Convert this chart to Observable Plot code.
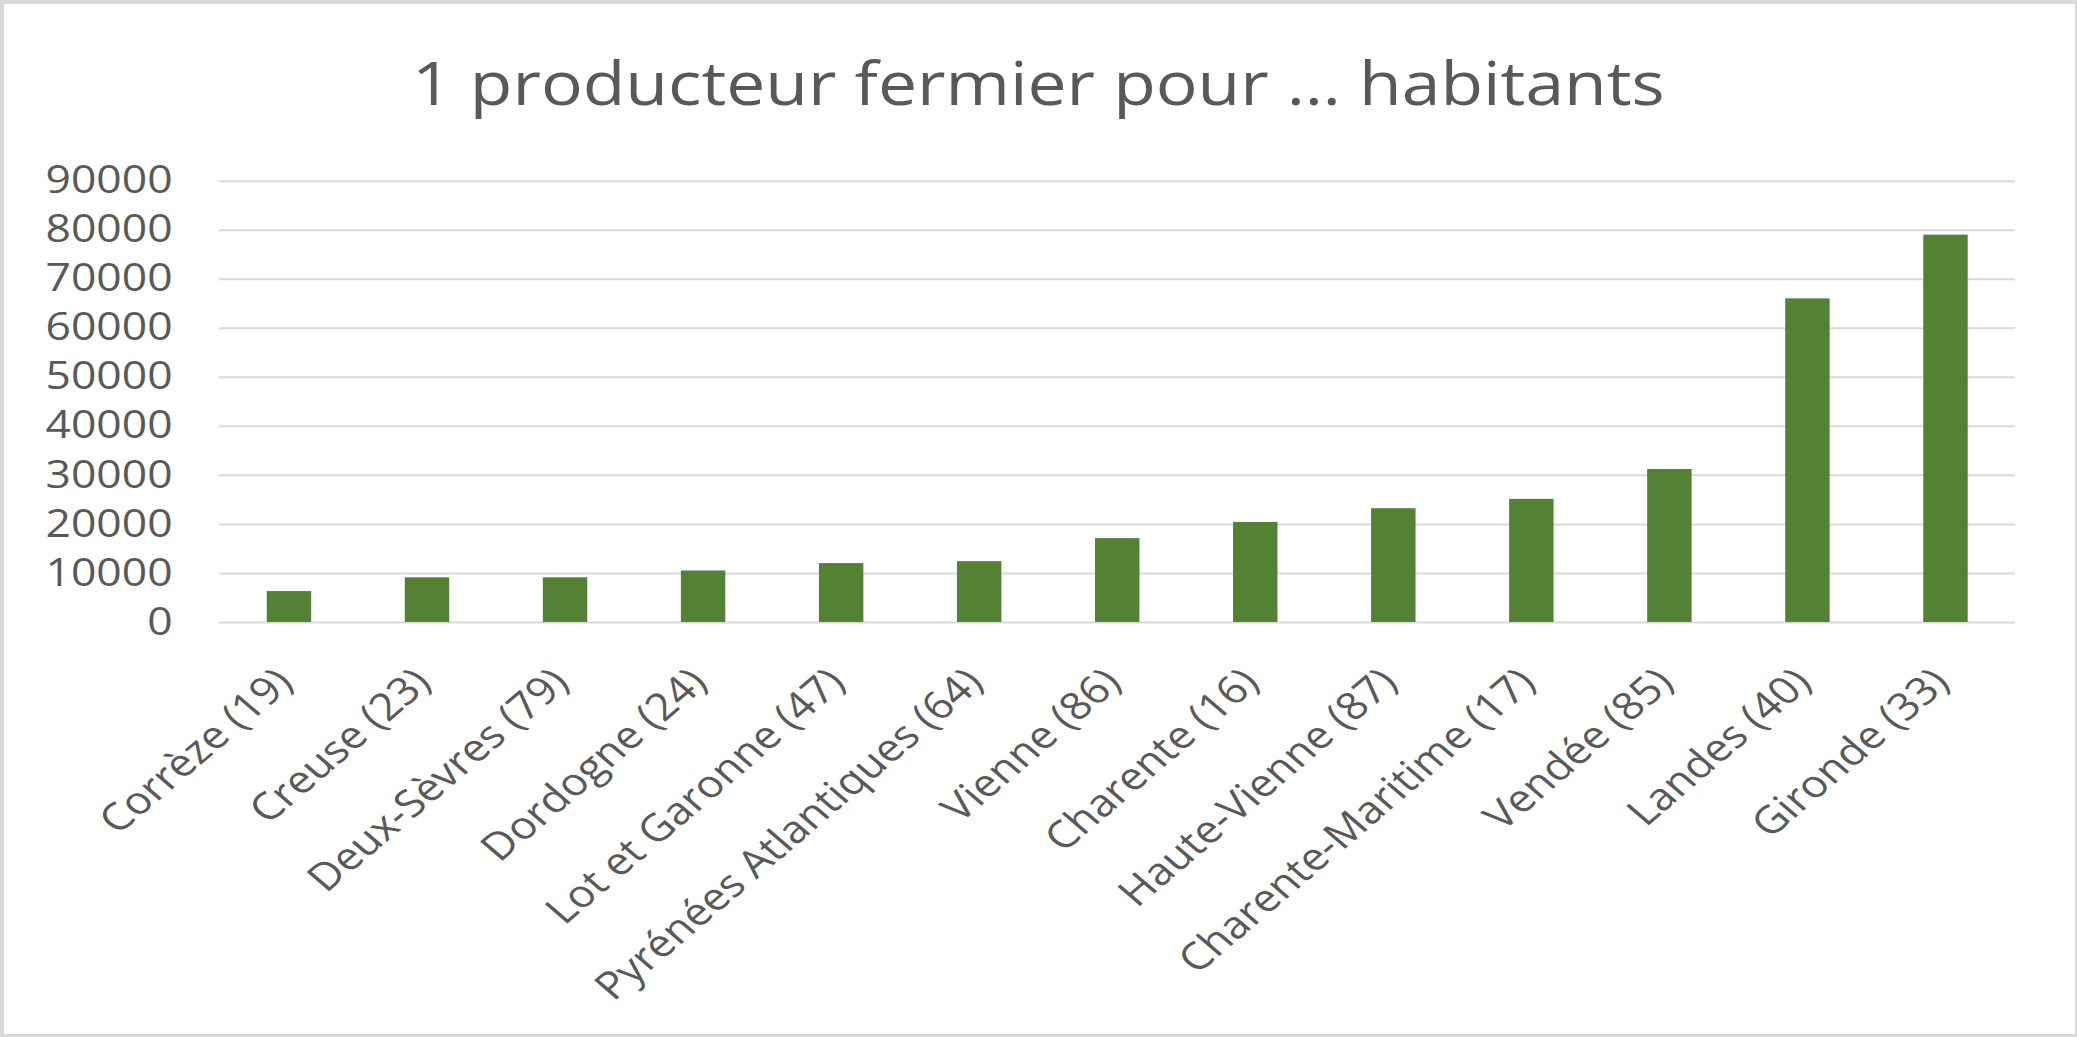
<!DOCTYPE html>
<html><head><meta charset="utf-8">
<script src="https://cdn.jsdelivr.net/npm/d3@7"></script>
<script src="https://cdn.jsdelivr.net/npm/@observablehq/plot@0.6"></script>
<style>
html,body{margin:0;padding:0;background:#fff;}
#frame{position:relative;width:2077px;height:1037px;overflow:hidden;background:#fff;}
#border{position:absolute;left:0;top:0;width:2077px;height:1037px;border-style:solid;border-color:#d9d9d9;border-width:4px 2px 3px 4px;pointer-events:none;box-sizing:border-box;}
#stretch{position:absolute;left:0;top:0;width:1775px;transform:scaleX(1.17);transform-origin:0 0;}
#title{height:130px;box-sizing:border-box;padding-top:52px;line-height:59px;font-size:59.5px;text-align:center;color:#595959;font-family:"Open Sans",sans-serif;white-space:nowrap;}
</style></head>
<body>
<div id="frame"><div id="stretch"><div id="title">1 producteur fermier pour … habitants</div><div id="chart"></div></div><div id="border"></div></div>
<script>
const categories = ["Corrèze (19)", "Creuse (23)", "Deux-Sèvres (79)", "Dordogne (24)", "Lot et Garonne (47)", "Pyrénées Atlantiques (64)", "Vienne (86)", "Charente (16)", "Haute-Vienne (87)", "Charente-Maritime (17)", "Vendée (85)", "Landes (40)", "Gironde (33)"];
const values = [6300, 9100, 9100, 10500, 12000, 12400, 17100, 20400, 23200, 25100, 31200, 66000, 79000];
const yTicks = [0, 10000, 20000, 30000, 40000, 50000, 60000, 70000, 80000, 90000];

const data = categories.map((c, i) => ({departement: c, valeur: values[i]}));
const S = 1.17;
const W = 2077 / S;
const chart = Plot.plot({
  width: W,
  height: 907,
  marginTop: 50.7,
  marginBottom: 415,
  marginLeft: 219 / S,
  marginRight: 62 / S,
  style: {fontFamily: "'Open Sans', sans-serif", background: "transparent", color: "#595959", overflow: "visible"},
  x: {domain: categories, paddingInner: 0.68, paddingOuter: 0.34, label: null},
  y: {domain: [0, 90000], label: null},
  marks: [
    Plot.gridY(yTicks, {stroke: "#d9d9d9", strokeOpacity: 1, strokeWidth: 2}),
    Plot.barY(data, {x: "departement", y: "valeur", fill: "#548235"}),
    Plot.axisY(yTicks, {tickSize: 0, tickPadding: 47 / S, fontSize: 38, fill: "#595959", label: null, tickFormat: d => String(d)}),
    Plot.axisX({tickSize: 0, tickRotate: -45, tickPadding: 62, lineAnchor: "bottom", textAnchor: "end", dx: 4.5, fontSize: 38, fill: "#595959", label: null})
  ]
});
document.getElementById("chart").appendChild(chart);
</script>
</body></html>
